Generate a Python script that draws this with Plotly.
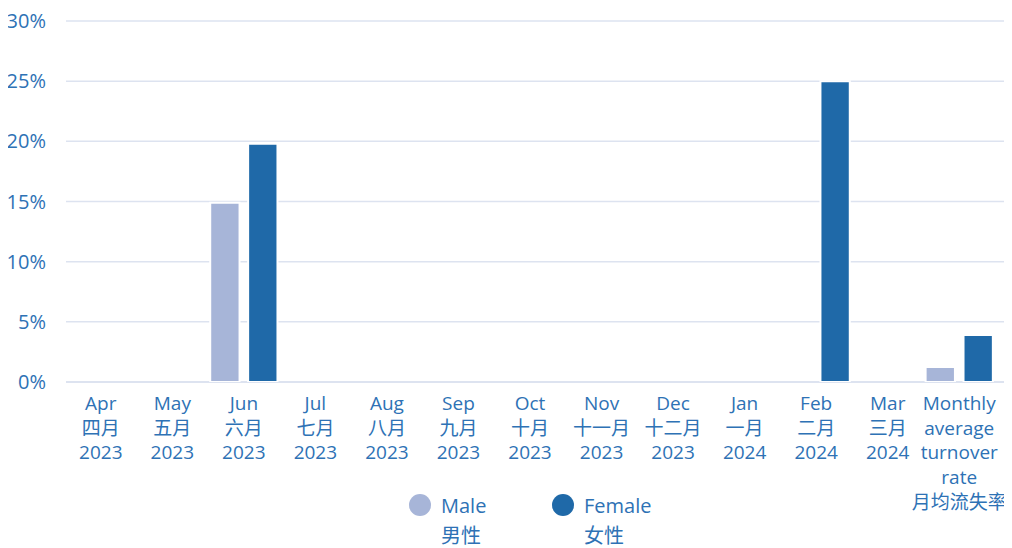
import plotly.graph_objects as go

categories = ["Apr<br>四月<br>2023", "May<br>五月<br>2023", "Jun<br>六月<br>2023", "Jul<br>七月<br>2023",
              "Aug<br>八月<br>2023", "Sep<br>九月<br>2023", "Oct<br>十月<br>2023", "Nov<br>十一月<br>2023",
              "Dec<br>十二月<br>2023", "Jan<br>一月<br>2024", "Feb<br>二月<br>2024", "Mar<br>三月<br>2024",
              "Monthly<br>average<br>turnover<br>rate<br>月均流失率"]
male = [None, None, 14.9, None, None, None, None, None, None, None, None, None, 1.25]
female = [None, None, 19.8, None, None, None, None, None, None, None, 25.0, None, 3.9]
y_ticks = [0, 5, 10, 15, 20, 25, 30]
legend_names = [("Male", "男性"), ("Female", "女性")]

TXT = "#2e72b5"
MALE_C = "#a7b5d8"
FEMALE_C = "#1f69a8"
GRID = "#dde3f0"
FONT = "Open Sans, Noto Sans CJK SC, sans-serif"
Y_MAX = 30

W, H = 1004, 540
ML, MR, MT, MB = 57, 17, 13, 166
plot_w = W - ML - MR
plot_h = H - MT - MB


def px_x(fx):
    return (fx - ML) / plot_w


def px_y(fy):
    return (H - MB - fy) / plot_h


fig = go.Figure()
fig.add_trace(go.Bar(x=categories, y=male, name="Male", width=0.41, offset=-0.47,
                     marker=dict(color=MALE_C, line=dict(color="white", width=2)), showlegend=False))
fig.add_trace(go.Bar(x=categories, y=female, name="Female", width=0.41, offset=0.06,
                     marker=dict(color=FEMALE_C, line=dict(color="white", width=2)), showlegend=False))

# gridlines extending slightly past the plot area, as in the reference
x0g = px_x(58)
x1g = px_x(1003)
for v in y_ticks:
    fig.add_shape(type="line", xref="paper", yref="paper", x0=x0g, x1=x1g, y0=v / Y_MAX, y1=v / Y_MAX,
                  line=dict(color=GRID, width=2 if v == 0 else 1.5), layer="below")

# custom legend (circle markers + two-line labels)
legend_colors = [MALE_C, FEMALE_C]
legend_x = [412, 555]
for (en, zh), col, cx in zip(legend_names, legend_colors, legend_x):
    fig.add_shape(type="circle", xref="paper", yref="paper",
                  xsizemode="pixel", ysizemode="pixel",
                  xanchor=px_x(cx), yanchor=px_y(497),
                  x0=-11, x1=11, y0=-11, y1=11,
                  fillcolor=col, line=dict(width=0))
    fig.add_annotation(text=en, xref="paper", yref="paper", x=px_x(cx + 20), y=px_y(497),
                       xanchor="left", yanchor="middle", showarrow=False, borderpad=0,
                       font=dict(size=20, color=TXT, family=FONT))
    fig.add_annotation(text=zh, xref="paper", yref="paper", x=px_x(cx + 20), y=px_y(527),
                       xanchor="left", yanchor="middle", showarrow=False, borderpad=0,
                       font=dict(size=20, color=TXT, family=FONT))

fig.update_layout(
    width=W, height=H,
    margin=dict(l=ML, r=MR, t=MT, b=MB),
    paper_bgcolor="white", plot_bgcolor="white",
    barmode="overlay",
    showlegend=False,
    font=dict(family=FONT, color=TXT, size=19),
    xaxis=dict(tickfont=dict(size=19, color=TXT), showgrid=False, showline=False, ticks="",
               tickangle=0, automargin=False, fixedrange=True, ticklabelstandoff=8),
    yaxis=dict(range=[0, Y_MAX], tickvals=y_ticks, ticktext=[f"{v}%" for v in y_ticks],
               tickfont=dict(size=20, color=TXT), showgrid=False, zeroline=False,
               ticks="", ticklen=0, automargin=False, ticklabelstandoff=18,
               ticklabeloverflow="allow"),
)
fig.write_html("out.html")
